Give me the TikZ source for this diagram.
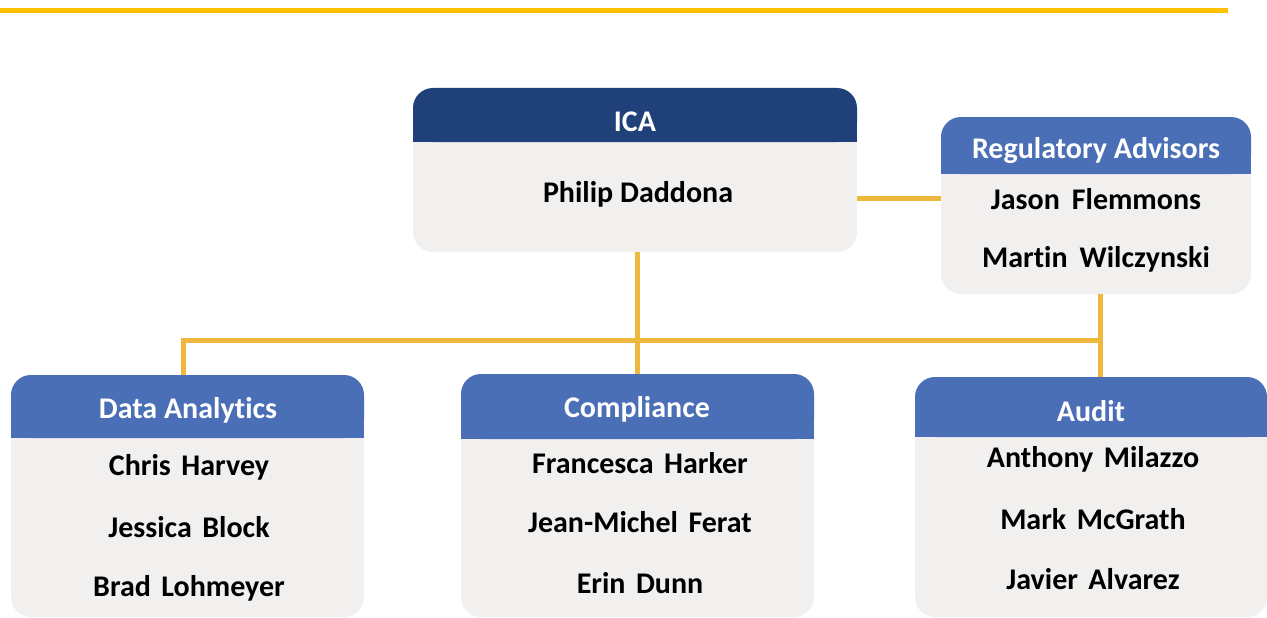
\documentclass[tikz,border=0pt]{standalone}
\usepackage{fontspec}
\setmainfont{Carlito}[Ligatures=NoCommon]
\usetikzlibrary{calc}
\definecolor{navy}{HTML}{1F4079}
\definecolor{hblue}{HTML}{4A6FB6}
\definecolor{bodygray}{HTML}{F1F0EF}
\definecolor{gold}{HTML}{FFC000}
\definecolor{conngold}{HTML}{EEB73E}
\begin{document}
\begin{tikzpicture}[x=1pt,y=-1pt,
  body/.style={fill=bodygray, rounded corners=20pt, draw=none, inner sep=0pt, outer sep=0pt, anchor=north west},
  conn/.style={draw=conngold, line width=5pt},
  htxt/.style={text=white, font=\fontsize{30}{36}\selectfont\bfseries, inner sep=0pt},
  ntxt/.style={text=black, font=\fontsize{30}{36}\selectfont\bfseries, inner sep=0pt}]
\path[use as bounding box] (0,0) rectangle (1267,618);
% top rule
\draw[draw=gold, line width=5pt] (0,11) -- (1228,11);
% boxes
\node[body, minimum width=444pt, minimum height=164pt] (ica) at (413,88) {};
\node[body, minimum width=310pt, minimum height=177pt] (reg) at (941,117) {};
\node[body, minimum width=353pt, minimum height=242pt] (da) at (11,375) {};
\node[body, minimum width=353pt, minimum height=243pt] (comp) at (461,374) {};
\node[body, minimum width=352pt, minimum height=240pt] (aud) at (915,377) {};
% headers
\fill[navy, rounded corners=20pt] (ica.north west) rectangle ($(ica.north east)+(0,54)$);
\fill[navy] ($(ica.north west)+(0,20)$) rectangle ($(ica.north east)+(0,54)$);
\fill[hblue, rounded corners=20pt] (reg.north west) rectangle ($(reg.north east)+(0,57)$);
\fill[hblue] ($(reg.north west)+(0,20)$) rectangle ($(reg.north east)+(0,57)$);
\fill[hblue, rounded corners=20pt] (da.north west) rectangle ($(da.north east)+(0,63)$);
\fill[hblue] ($(da.north west)+(0,20)$) rectangle ($(da.north east)+(0,63)$);
\fill[hblue, rounded corners=20pt] (comp.north west) rectangle ($(comp.north east)+(0,65)$);
\fill[hblue] ($(comp.north west)+(0,20)$) rectangle ($(comp.north east)+(0,65)$);
\fill[hblue, rounded corners=20pt] (aud.north west) rectangle ($(aud.north east)+(0,60)$);
\fill[hblue] ($(aud.north west)+(0,20)$) rectangle ($(aud.north east)+(0,60)$);
% texts
\node[htxt] (icat) at (635,122) {ICA};
\node[ntxt] (ican) at (638,194) {Philip Daddona};
\node[htxt] (regt) at (1096,151) {Regulatory Advisors};
\node[ntxt] (regn1) at (1096,199) {Jason\hspace{0.4em}Flemmons};
\node[ntxt] (regn2) at (1096,259) {Mart\kern0pt in\hspace{0.4em}Wilczynski};
\node[htxt] (dat) at (188,410) {Data Analyt\kern0pt ics};
\node[ntxt] (dan1) at (189,467) {Chris\hspace{0.35em}Harvey};
\node[ntxt] (dan2) at (189,527) {Jessica\hspace{0.35em}Block};
\node[ntxt] (dan3) at (189,588) {Brad\hspace{0.35em}Lohmeyer};
\node[htxt] (compt) at (637,409) {Compliance};
\node[ntxt] (compn1) at (640,463) {Francesca\hspace{0.35em}Harker};
\node[ntxt] (compn2) at (640,522) {Jean-Michel\hspace{0.35em}Ferat};
\node[ntxt] (compn3) at (640,583) {Erin\hspace{0.35em}Dunn};
\node[htxt] (audt) at (1091,411) {Audit};
\node[ntxt] (audn1) at (1093,459) {Anthony\hspace{0.35em}Milazzo};
\node[ntxt] (audn2) at (1093,519) {Mark\hspace{0.35em}McGrath};
\node[ntxt] (audn3) at (1093,579) {Javier\hspace{0.35em}Alvarez};
% connectors
\coordinate (busy) at (0,340);
\draw[conn] ([yshift=-28pt]ica.east) -- ([yshift=-28pt]ica.east -| reg.west);
\draw[conn] (ica.south -| comp.north) -- (comp.north);
\draw[conn] ([xshift=-4.5pt]da.north) |- ([xshift=4pt]reg.south |- busy);
\draw[conn] ([xshift=4pt]reg.south) -- ([xshift=4pt]reg.south |- aud.north);
\end{tikzpicture}
\end{document}
